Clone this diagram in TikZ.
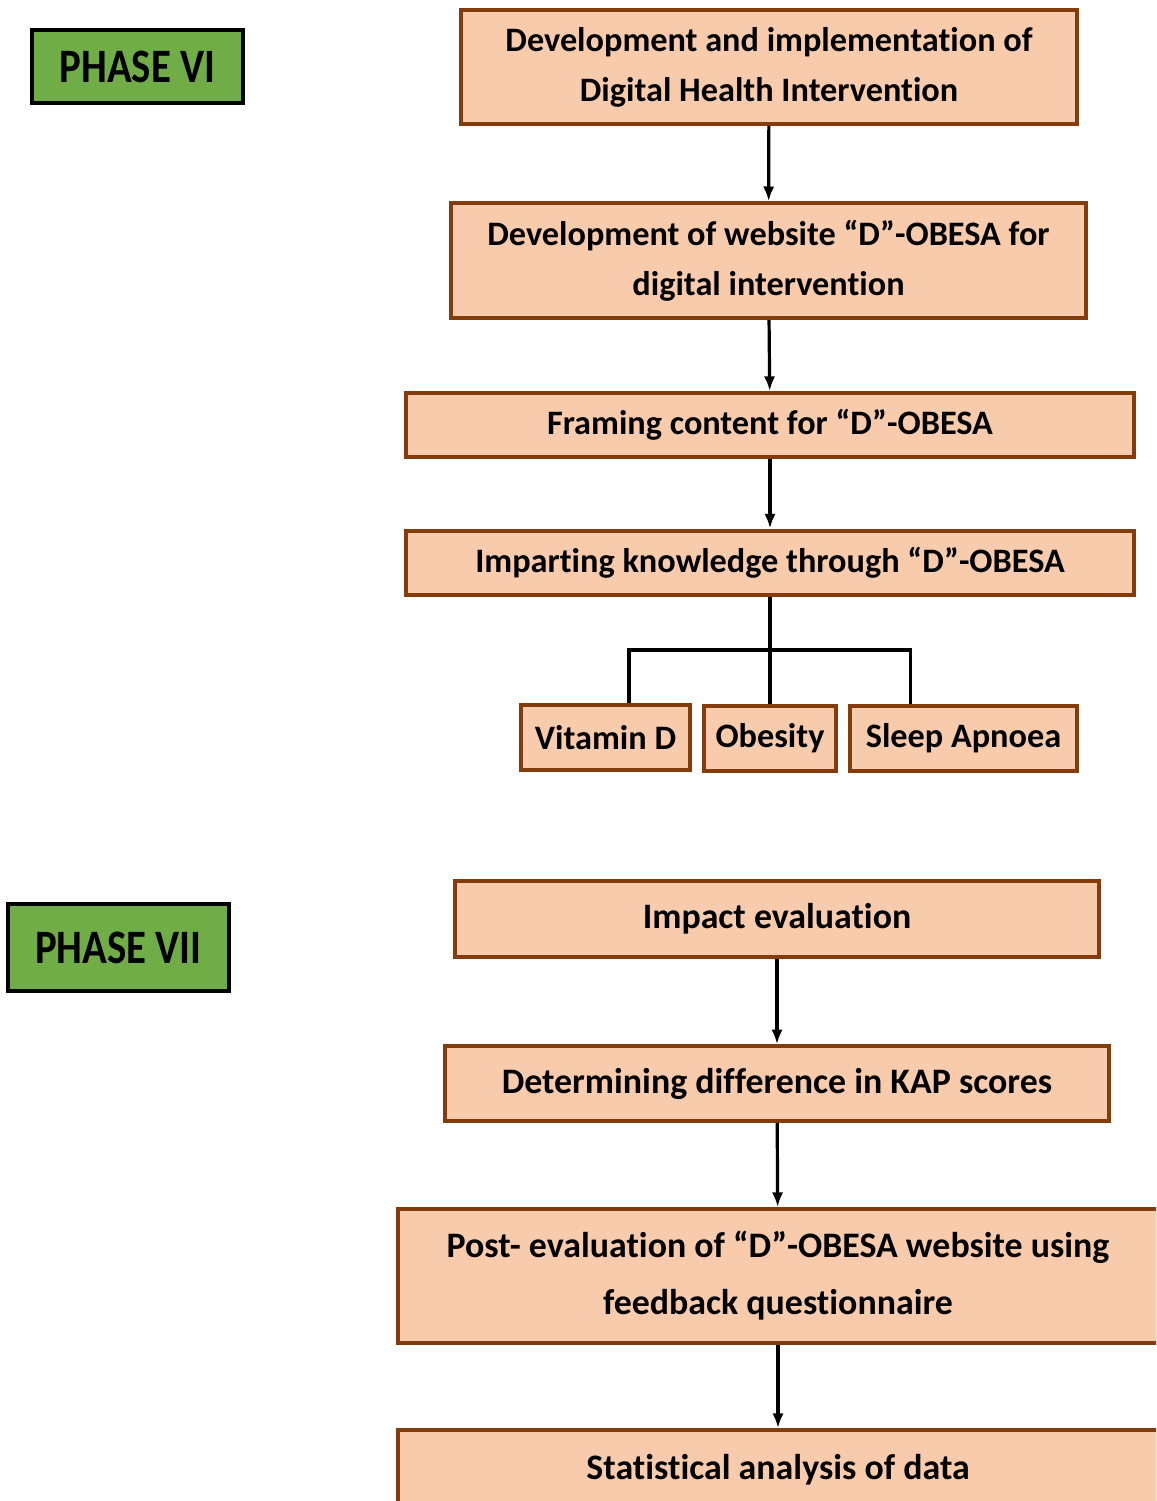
\documentclass[tikz,border=0pt]{standalone}
\usepackage{fontspec}
\setmainfont{Carlito}[Ligatures=NoCommon]
\newfontfamily\phasefont{Carlito}[FakeStretch=0.85]
\usetikzlibrary{arrows.meta}

\definecolor{peach}{RGB}{248,203,173}
\definecolor{rust}{RGB}{132,60,12}
\definecolor{leaf}{RGB}{112,173,71}

\begin{document}
\begin{tikzpicture}[
        x=0.75pt,
        y=-0.75pt,
        font=\bfseries\fontsize{25.7}{37.5}\selectfont,
        box/.style={
            draw=rust,
            fill=peach,
            line width=3pt,
            align=center,
            inner sep=0pt
        },
        phase/.style={
            draw=black,
            fill=leaf,
            line width=3pt,
            inner sep=0pt,
            font=\phasefont\bfseries\fontsize{36}{40}\selectfont
        },
        link/.style={
            line width=2.4pt,
            -{Latex[length=11pt,width=8.5pt]}
        },
        branch/.style={line width=2.4pt}
    ]

    \useasboundingbox (0,0) rectangle (1156,1501);
    \clip (0,0) rectangle (1156,1501);

    % Fase VI
    \begin{scope}
        \node[phase, minimum width=158pt, minimum height=55pt] (phsix) at (137.5,66.5) {PHASE VI};

        \node[box, minimum width=462pt, minimum height=85.5pt] (devimp) at (769,67)
            {Development and implementation of\\Digital Health Intervention};
        \node[box, minimum width=476pt, minimum height=86pt] (website) at (768.5,260.5)
            {Development of website “D”-OBESA for\\digital intervention};
        \node[box, minimum width=546pt, minimum height=48pt] (framing) at (770,425)
            {Framing content for “D”-OBESA};
        \node[box, minimum width=546pt, minimum height=48pt] (impart) at (770,562.5)
            {Imparting knowledge through “D”-OBESA};

        \node[box, minimum width=127pt, minimum height=49pt] (vitd) at (605.5,737.5) {Vitamin D};
        \node[box, minimum width=99pt, minimum height=49pt] (obes) at (770,738.5) {Obesity};
        \node[box, minimum width=170pt, minimum height=49pt] (sleep) at (963.5,738.5) {Sleep Apnoea};

        \draw[link] (devimp) -- (website);
        \draw[link] (website) -- (framing);
        \draw[link] (framing) -- (impart);

        \coordinate (fork) at (770,650);
        \draw[branch] (impart) -- (obes);
        \draw[branch] ([xshift=17.6pt]vitd.north) |- (fork) -| ([xshift=-40pt]sleep.north);
    \end{scope}

    % Fase VII
    \begin{scope}[font=\bfseries\fontsize{26.9}{42.75}\selectfont]
        \node[phase, minimum width=166pt, minimum height=65pt] (phseven) at (118.5,947.5) {PHASE VII};

        \node[box, minimum width=483pt, minimum height=57pt] (impact) at (777,919)
            {Impact evaluation};
        \node[box, minimum width=498pt, minimum height=56pt] (kap) at (777,1083.5)
            {Determining difference in KAP scores};
        \node[box, minimum width=570pt, minimum height=100.5pt] (post) at (778,1276)
            {Post- evaluation of “D”-OBESA website using\\feedback questionnaire};
        \node[box, minimum width=570pt, minimum height=60pt] (stats) at (778,1470)
            {Statistical analysis of data};

        \draw[link] (impact) -- (kap);
        \draw[link] (kap) -- (post);
        \draw[link] (post) -- (stats);
    \end{scope}

\end{tikzpicture}
\end{document}
